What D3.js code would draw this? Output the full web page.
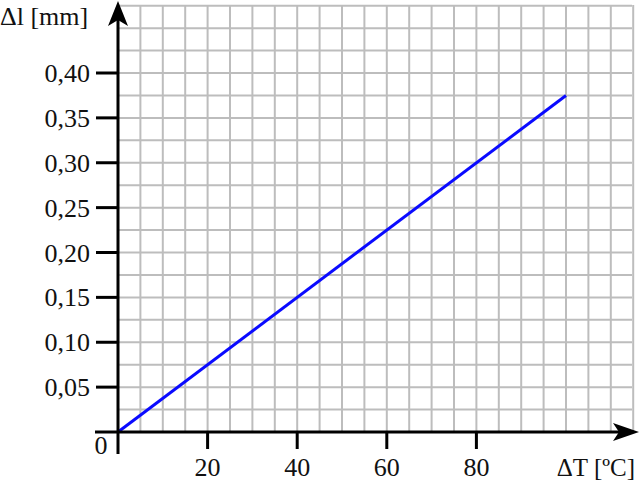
<!DOCTYPE html>
<html><head><meta charset="utf-8">
<script src="https://cdn.jsdelivr.net/npm/d3@7"></script>
<style>body{margin:0;background:#fff}svg{display:block}text{font-family:"Liberation Serif",serif;fill:#111}</style>
</head><body>
<svg id="c" width="640" height="483"></svg>
<script>
const xTicks = [20, 40, 60, 80];
const yTicks = [0.05, 0.10, 0.15, 0.20, 0.25, 0.30, 0.35, 0.40];
const lineX = [0, 100];
const lineY = [0, 0.375];

const svg = d3.select("#c");
const x = d3.scaleLinear().domain([0, 100]).range([118, 566]);
const y = d3.scaleLinear().domain([0, 0.40]).range([432, 73]);
const fmt = v => v.toFixed(2).replace(".", ",");
const FS = 26;

// grid
const gx = d3.range(0, 116, 5), gy = d3.range(0, 0.476, 0.025);
const g = svg.append("g").attr("stroke", "#bdbdbd").attr("stroke-width", 2);
g.selectAll("line.v").data(gx).join("line")
  .attr("x1", d => x(d)).attr("x2", d => x(d)).attr("y1", 5).attr("y2", 432);
g.selectAll("line.h").data(gy).join("line")
  .attr("x1", 118).attr("x2", 632).attr("y1", d => y(d)).attr("y2", d => y(d));

// data line
svg.append("path").datum(lineX.map((d, i) => [d, lineY[i]]))
  .attr("d", d3.line().x(d => x(d[0])).y(d => y(d[1])))
  .attr("stroke", "#0a0aff").attr("stroke-width", 3).attr("fill", "none");

// axes
const ax = svg.append("g").attr("stroke", "#000").attr("stroke-width", 3);
ax.append("line").attr("x1", 95).attr("x2", 628).attr("y1", y(0)).attr("y2", y(0));
ax.append("line").attr("x1", x(0)).attr("x2", x(0)).attr("y1", 454).attr("y2", 12);
ax.selectAll("line.xt").data(xTicks).join("line")
  .attr("x1", d => x(d)).attr("x2", d => x(d)).attr("y1", y(0)).attr("y2", 449);
ax.selectAll("line.yt").data(yTicks).join("line")
  .attr("x1", 96).attr("x2", x(0)).attr("y1", d => y(d)).attr("y2", d => y(d));
// arrows
svg.append("path").attr("d", `M118,1 L128,26 L118,20 L108,26 Z`).attr("fill", "#000");
svg.append("path").attr("d", `M639,432 L613,423 L619,432 L613,441 Z`).attr("fill", "#000");

// labels
svg.selectAll("text.yl").data(yTicks).join("text")
  .attr("x", 90).attr("y", d => y(d) + 9).attr("text-anchor", "end")
  .attr("font-size", FS).text(fmt);
svg.selectAll("text.xl").data(xTicks).join("text")
  .attr("x", d => x(d)).attr("y", 476).attr("text-anchor", "middle")
  .attr("font-size", FS).text(d => d);
svg.append("text").attr("x", 101).attr("y", 454).attr("text-anchor", "middle").attr("font-size", FS).text("0");
svg.append("text").attr("x", 0).attr("y", 25).attr("font-size", FS).text("Δl [mm]");
svg.append("text").attr("x", 635).attr("y", 476).attr("text-anchor", "end").attr("font-size", FS - 1).text("ΔT [ºC]");
</script>
</body></html>
